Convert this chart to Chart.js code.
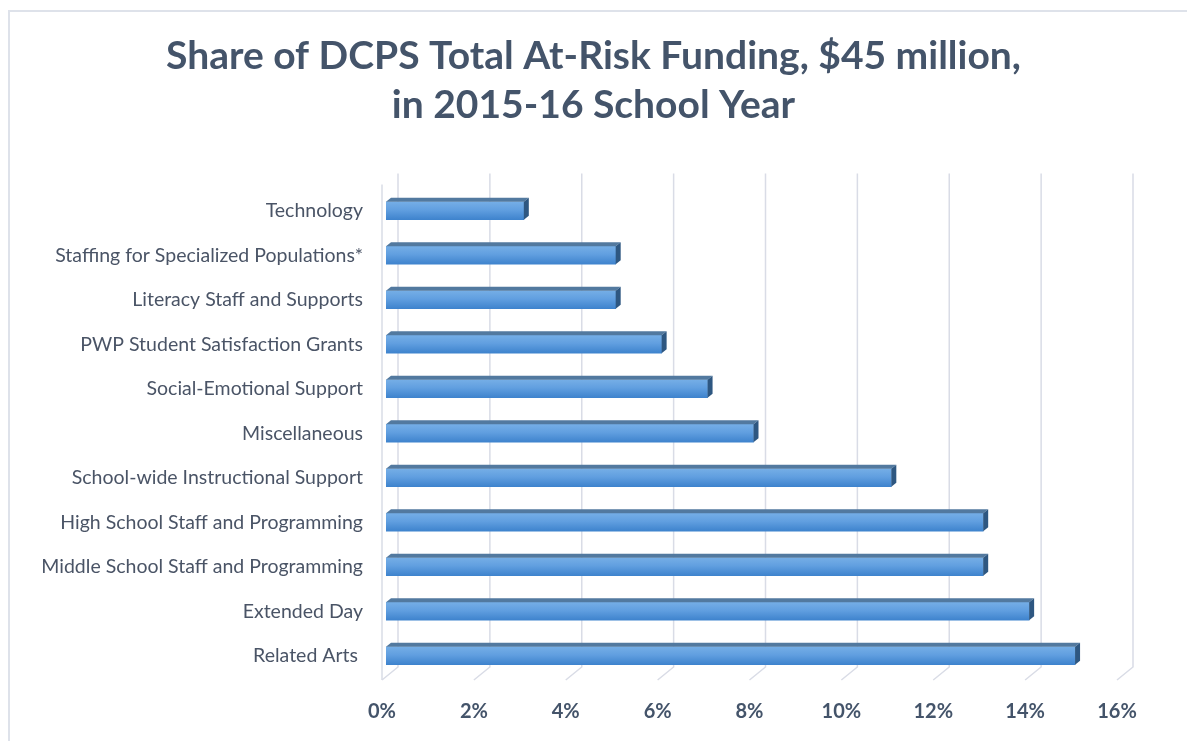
<!DOCTYPE html>
<html>
<head>
<meta charset="utf-8">
<script src="https://cdn.jsdelivr.net/npm/chart.js@4"></script>
<style>
  html, body { margin: 0; padding: 0; background: #fff; }
  #frame {
    position: absolute; left: 0; top: 0; width: 1187px; height: 741px; overflow: hidden;
  }
  #border {
    position: absolute; left: 8px; top: 10px; width: 1300px; height: 900px;
    border-left: 2px solid #DEE2EA; border-top: 2px solid #DEE2EA;
  }
  canvas { position: absolute; left: 0; top: 0; }
</style>
</head>
<body>
<div id="frame">
  <div id="border"></div>
  <canvas id="chart" width="1187" height="741"></canvas>
</div>
<script>
// datos (porcentaje del total)
const categories = [
    'Technology',
    'Staffing for Specialized Populations*',
    'Literacy Staff and Supports',
    'PWP Student Satisfaction Grants',
    'Social-Emotional Support',
    'Miscellaneous',
    'School-wide Instructional Support',
    'High School Staff and Programming',
    'Middle School Staff and Programming',
    'Extended Day',
    'Related Arts '
];
const shares = [3, 5, 5, 6, 7, 8, 11, 13, 13, 14, 15];
const tickValues = [0, 2, 4, 6, 8, 10, 12, 14, 16];
const titleLines = ['Share of DCPS Total At-Risk Funding, $45 million,', 'in 2015-16 School Year'];

const DEPTH_X = 16, DEPTH_Y = 13;   // profundidad de la pared trasera
const BAR_DX = 5, BAR_DY = 4;       // profundidad de las barras
const BAR_SHIFT = 4;

/**
 * Rejilla en perspectiva: línea en la pared trasera + diagonal en el suelo.
 */
const wallGrid = {
    id: 'wallGrid',
    beforeDatasetsDraw(chart) {
        const { ctx, chartArea, scales } = chart;
        const top = chartArea.top - 15;
        const floor = chartArea.bottom + 2;
        ctx.save();
        ctx.strokeStyle = '#D9DCE6';
        ctx.lineWidth = 1.5;
        tickValues.forEach(v => {
            const px = scales.x.getPixelForValue(v);
            ctx.beginPath();
            ctx.moveTo(px + DEPTH_X, top);
            ctx.lineTo(px + DEPTH_X, floor - DEPTH_Y);
            ctx.lineTo(px, floor);
            ctx.stroke();
        });
        // arista frontal de la pared izquierda
        const x0 = scales.x.getPixelForValue(0);
        ctx.beginPath();
        ctx.moveTo(x0, top + DEPTH_Y - 2);
        ctx.lineTo(x0, floor);
        ctx.stroke();
        ctx.restore();
    }
};

/**
 * Caras superior y lateral de las barras (efecto 3D).
 */
const barFaces = {
    id: 'barFaces',
    beforeDatasetDraw(chart) {
        chart.ctx.save();
        chart.ctx.translate(BAR_SHIFT, 0);
    },
    afterDatasetDraw(chart, args) {
        const { ctx } = chart;
        args.meta.data.forEach(bar => {
            const { x, y, base, height } = bar.getProps(['x', 'y', 'base', 'height'], true);
            const t = y - height / 2, b = y + height / 2;
            ctx.beginPath();
            ctx.moveTo(base, t);
            ctx.lineTo(x, t);
            ctx.lineTo(x + BAR_DX, t - BAR_DY);
            ctx.lineTo(base + BAR_DX, t - BAR_DY);
            ctx.closePath();
            ctx.fillStyle = '#52799F';
            ctx.fill();
            ctx.beginPath();
            ctx.moveTo(x, t);
            ctx.lineTo(x + BAR_DX, t - BAR_DY);
            ctx.lineTo(x + BAR_DX, b - BAR_DY);
            ctx.lineTo(x, b);
            ctx.closePath();
            ctx.fillStyle = '#2E5781';
            ctx.fill();
        });
        ctx.restore();
    }
};

function frontGradient(context) {
    const { chart, dataIndex } = context;
    const el = chart.getDatasetMeta(0).data[dataIndex];
    if (!el) return '#5C9CDF';
    const { y, height } = el.getProps(['y', 'height'], true);
    if (!Number.isFinite(y) || !Number.isFinite(height)) return '#5C9CDF';
    const g = chart.ctx.createLinearGradient(0, y - height / 2, 0, y + height / 2);
    g.addColorStop(0, '#75AEE6');
    g.addColorStop(0.45, '#619FE0');
    g.addColorStop(1, '#3E83CD');
    return g;
}

const chart = new Chart(document.getElementById('chart'), {
    type: 'bar',
    data: {
        labels: categories,
        datasets: [{
            data: shares,
            backgroundColor: frontGradient,
            borderWidth: 0,
            barThickness: 18
        }]
    },
    plugins: [wallGrid, barFaces],
    options: {
        indexAxis: 'y',
        responsive: false,
        animation: false,
        layout: { padding: { top: 23, right: 0, bottom: 0, left: 0 } },
        plugins: {
            legend: { display: false },
            tooltip: { enabled: false },
            title: {
                display: true,
                text: titleLines,
                color: '#44546A',
                font: { family: 'Lato', size: 39, weight: 'bold', lineHeight: 1.25 },
                padding: { top: 9, bottom: 59 }
            }
        },
        scales: {
            x: {
                min: 0,
                max: 16,
                afterBuildTicks: s => { s.ticks = tickValues.map(v => ({ value: v })); },
                afterFit: s => { s.height = 63; },
                grid: { display: false, drawTicks: false },
                border: { display: false },
                ticks: {
                    padding: 22,
                    color: '#44546A',
                    font: { family: 'Lato', size: 20, weight: 'bold' },
                    callback: v => v + '%'
                }
            },
            y: {
                afterFit: s => { s.width = 382; },
                grid: { display: false, drawTicks: false },
                border: { display: false },
                ticks: {
                    padding: 19,
                    color: '#4A5466',
                    font: { family: 'Lato', size: 19.5 }
                }
            },
            // eje vacío a la derecha: deja margen y mantiene el título centrado
            yRight: {
                type: 'category',
                position: 'right',
                afterFit: s => { s.width = 70; },
                grid: { display: false, drawTicks: false },
                border: { display: false },
                ticks: { display: false }
            }
        }
    }
});
// segunda pasada para que el degradado use las posiciones finales
chart.update();
</script>
</body>
</html>
